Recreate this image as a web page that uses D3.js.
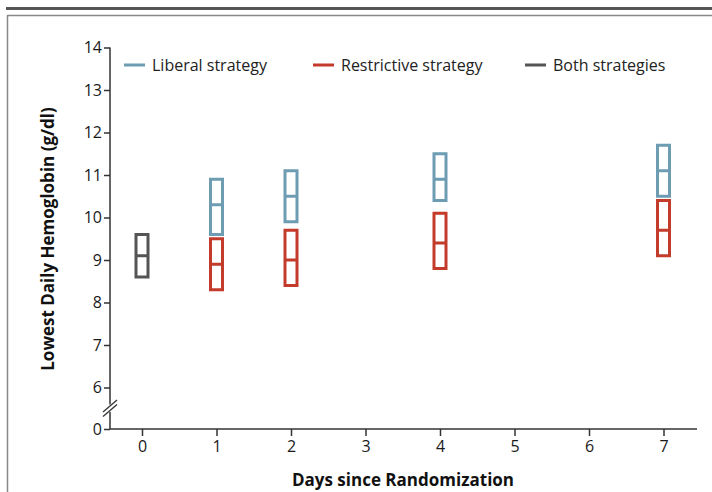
<!DOCTYPE html>
<html lang="en">
<head>
<meta charset="utf-8">
<title>Lowest Daily Hemoglobin</title>
<script src="https://d3js.org/d3.v7.min.js"></script>
<style>
  body { margin: 0; background: #fff; }
  svg text { font-family: "Open Sans", "Noto Sans", sans-serif; }
</style>
</head>
<body>
<svg width="712" height="492"></svg>
<script>
// data
const dayTicks = [0, 1, 2, 3, 4, 5, 6, 7];
const yTicks = [0, 6, 7, 8, 9, 10, 11, 12, 13, 14];

const bothDays = [0];
const bothHigh = [9.6];
const bothMid  = [9.1];
const bothLow  = [8.6];

const libDays = [1, 2, 4, 7];
const libHigh = [10.9, 11.1, 11.5, 11.7];
const libMid  = [10.3, 10.5, 10.9, 11.1];
const libLow  = [9.6, 9.9, 10.4, 10.5];

const resDays = [1, 2, 4, 7];
const resHigh = [9.5, 9.7, 10.1, 10.4];
const resMid  = [8.9, 9.0, 9.4, 9.7];
const resLow  = [8.3, 8.4, 8.8, 9.1];

const legendNames = ["Liberal strategy", "Restrictive strategy", "Both strategies"];
const colors = { lib: "#6d9cb3", res: "#c33b2b", both: "#555555" };

const svg = d3.select("svg");

// frame
svg.append("line").attr("x1", 6).attr("x2", 712).attr("y1", 8.5).attr("y2", 8.5)
   .attr("stroke", "#555").attr("stroke-width", 3);
svg.append("rect").attr("x", 7.5).attr("y", 15.5).attr("width", 720).attr("height", 500)
   .attr("fill", "none").attr("stroke", "#888").attr("stroke-width", 1.5);

// scales (broken y axis: 0 then 6..14)
const x = d3.scaleLinear().domain([0, 7]).range([142, 663.5]);
const y = d3.scaleLinear().domain([0, 6, 14]).range([429, 387.5, 47.5]);
const axisColor = "#333";

// y axis
const yAxis = svg.append("g").attr("transform", "translate(110,0)")
  .call(d3.axisLeft(y).tickValues(yTicks).tickSize(6).tickPadding(2).tickFormat(d3.format("d")));
yAxis.attr("font-size", null).attr("font-family", null);
yAxis.select(".domain").remove();
yAxis.selectAll("line").attr("stroke", axisColor).attr("stroke-width", 1.5);
yAxis.selectAll("text").style("font-size", "16px").attr("fill", "#1a1a1a");

svg.append("line").attr("x1", 110).attr("x2", 110).attr("y1", y(14)).attr("y2", 404.5)
   .attr("stroke", axisColor).attr("stroke-width", 1.5);
svg.append("line").attr("x1", 110).attr("x2", 110).attr("y1", 412).attr("y2", y(0))
   .attr("stroke", axisColor).attr("stroke-width", 1.5);
[406, 410.5].forEach(cy => {
  svg.append("line").attr("x1", 103).attr("y1", cy + 6).attr("x2", 117).attr("y2", cy - 6)
     .attr("stroke", axisColor).attr("stroke-width", 1.3);
});

// x axis
const xAxis = svg.append("g").attr("transform", `translate(0,${y(0)})`)
  .call(d3.axisBottom(x).tickValues(dayTicks).tickSize(7).tickPadding(5).tickFormat(d3.format("d")));
xAxis.attr("font-size", null).attr("font-family", null);
xAxis.select(".domain").remove();
xAxis.selectAll("line").attr("stroke", axisColor).attr("stroke-width", 1.5);
xAxis.selectAll("text").style("font-size", "16px").attr("fill", "#1a1a1a");
svg.append("line").attr("x1", 110).attr("x2", 697).attr("y1", y(0)).attr("y2", y(0))
   .attr("stroke", axisColor).attr("stroke-width", 1.5);

// axis titles
svg.append("text").attr("x", 403).attr("y", 486).attr("text-anchor", "middle")
   .style("font-size", "17px").attr("font-weight", "bold").attr("fill", "#111")
   .text("Days since Randomization");
svg.append("text").attr("transform", "translate(54,239) rotate(-90)").attr("text-anchor", "middle")
   .style("font-size", "17px").attr("font-weight", "bold").attr("fill", "#111")
   .text("Lowest Daily Hemoglobin (g/dl)");

// boxes
function boxes(days, high, mid, low, color) {
  const d = days.map((v, i) => ({ day: v, hi: high[i], md: mid[i], lo: low[i] }));
  const g = svg.append("g");
  g.selectAll("rect").data(d).enter().append("rect")
    .attr("x", b => x(b.day) - 6)
    .attr("y", b => y(b.hi))
    .attr("width", 12)
    .attr("height", b => y(b.lo) - y(b.hi))
    .attr("fill", "none").attr("stroke", color).attr("stroke-width", 3);
  g.selectAll("line").data(d).enter().append("line")
    .attr("x1", b => x(b.day) - 6).attr("x2", b => x(b.day) + 6)
    .attr("y1", b => y(b.md)).attr("y2", b => y(b.md))
    .attr("stroke", color).attr("stroke-width", 3);
}
boxes(bothDays, bothHigh, bothMid, bothLow, colors.both);
boxes(libDays, libHigh, libMid, libLow, colors.lib);
boxes(resDays, resHigh, resMid, resLow, colors.res);

// legend
const legendX = [124, 313, 525];
const legendColors = [colors.lib, colors.res, colors.both];
const lg = svg.append("g").selectAll("g").data(legendNames).enter().append("g")
  .attr("transform", (d, i) => `translate(${legendX[i]},65)`);
lg.append("line").attr("x1", 0).attr("x2", 21).attr("y1", 0).attr("y2", 0)
  .attr("stroke", (d, i) => legendColors[i]).attr("stroke-width", 3);
lg.append("text").attr("x", 28).attr("y", 5.5).style("font-size", "16px").attr("fill", "#222")
  .text(d => d);
</script>
</body>
</html>
